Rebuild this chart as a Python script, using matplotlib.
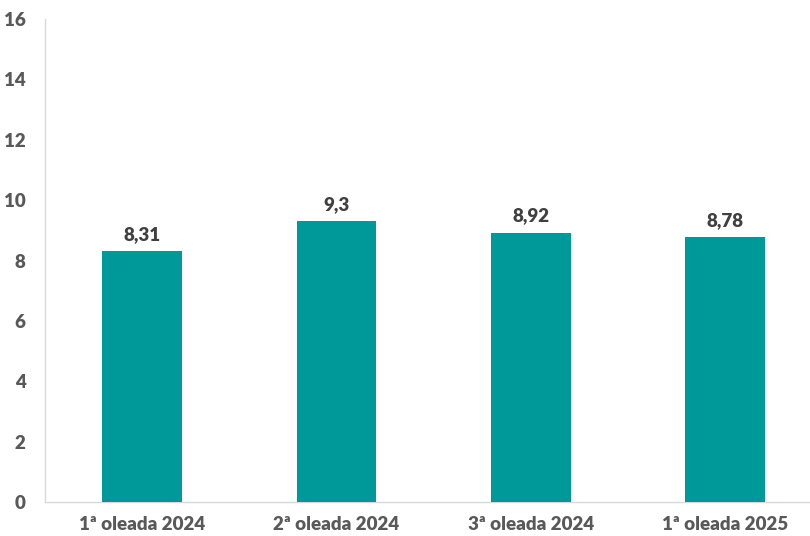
import matplotlib
matplotlib.use("Agg")
import matplotlib.pyplot as plt

categories = ["1ª oleada 2024", "2ª oleada 2024", "3ª oleada 2024", "1ª oleada 2025"]
values = [8.31, 9.3, 8.92, 8.78]
value_labels = ["8,31", "9,3", "8,92", "8,78"]

plt.rcParams['font.family'] = ['Lato', 'DejaVu Sans']
text_color = "#595959"
bar_color = "#009999"

fig = plt.figure(figsize=(8.10, 5.36), dpi=100)
ax = fig.add_axes([45/810, 1-502/536, 1-45/810, (502-19)/536])

x = list(range(len(categories)))
bars = ax.bar(x, values, width=0.41, color=bar_color, zorder=3)

for xi, v, lab in zip(x, values, value_labels):
    ax.annotate(lab, (xi, v), xytext=(0, 6), textcoords="offset points",
                ha="center", va="bottom", fontsize=13.5, fontweight="heavy", color="#404040")

ax.set_ylim(0, 16)
ax.set_yticks(range(0, 17, 2))
ax.set_xlim(-0.5, 3.437)
ax.set_xticks(x)
ax.set_xticklabels(categories)

for lbl in ax.get_yticklabels() + ax.get_xticklabels():
    lbl.set_fontweight("heavy")
    lbl.set_color(text_color)
    lbl.set_fontsize(13.5)

ax.tick_params(axis="both", length=0)
ax.tick_params(axis="y", pad=14)
ax.tick_params(axis="x", pad=10)

ax.spines["top"].set_visible(False)
ax.spines["right"].set_visible(False)
ax.spines["left"].set_color("#D9D9D9")
ax.spines["bottom"].set_color("#D9D9D9")
ax.spines["left"].set_linewidth(1)
ax.spines["bottom"].set_linewidth(1)

fig.savefig("out.png", dpi=100)
